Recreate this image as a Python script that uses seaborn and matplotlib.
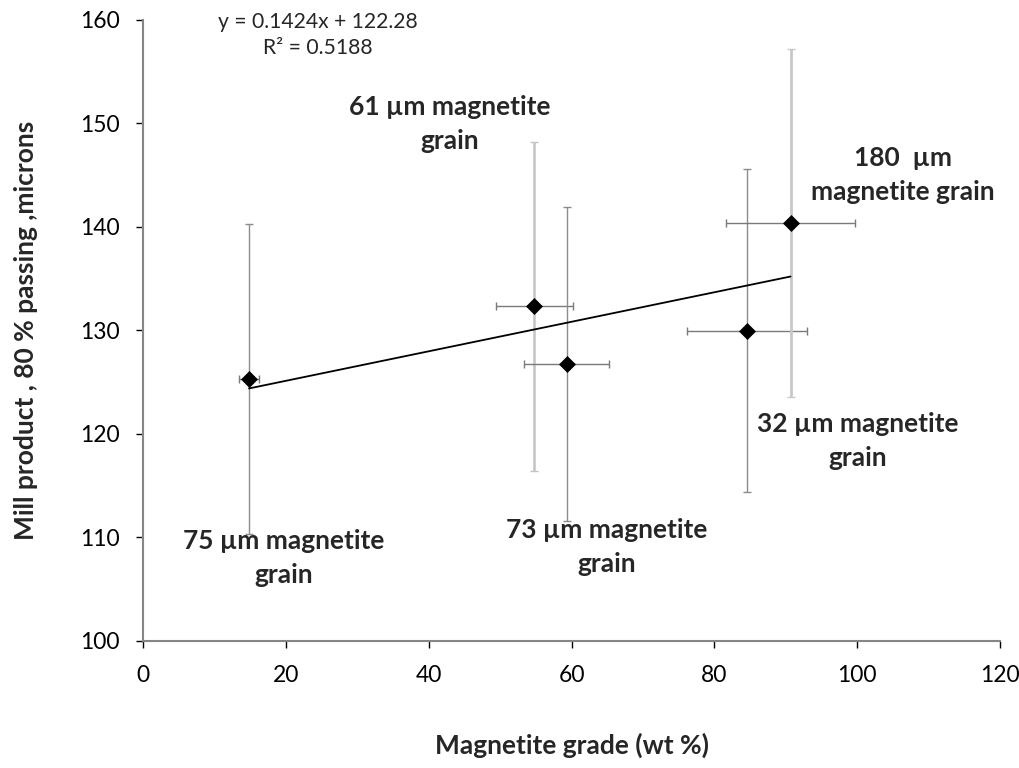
import matplotlib
matplotlib.use("Agg")
import matplotlib.pyplot as plt
import seaborn as sns
import numpy as np
import pandas as pd

# ---- data ----
grade = [14.8, 54.8, 59.3, 84.6, 90.7]          # Magnetite grade (wt %)
p80 = [125.3, 132.3, 126.75, 129.97, 140.4]     # Mill product P80 (microns)
p80_err = [15.0, 15.9, 15.2, 15.6, 16.8]
grade_err = [1.45, 5.4, 5.9, 8.4, 9.1]
labels = ["75 µm magnetite\ngrain", "61 µm magnetite\ngrain", "73 µm magnetite\ngrain",
          "32 µm magnetite\ngrain", "180  µm\nmagnetite grain"]
label_x = [19.6, 42.9, 65.0, 100.1, 106.4]
label_y = [108.0, 149.9, 109.1, 119.3, 145.0]
slope = 0.1424
intercept = 122.28
r2 = 0.5188
x_ticks = [0, 20, 40, 60, 80, 100, 120]
y_ticks = [100, 110, 120, 130, 140, 150, 160]

sns.set_theme(style="white")
plt.rcParams['font.family'] = ['Lato', 'DejaVu Sans']

fig = plt.figure(figsize=(10.2, 7.68), dpi=100)
ax = fig.add_axes([0.1406, 0.1654, 0.8394, 0.8090])

df = pd.DataFrame({"grade": grade, "p80": p80})

# error bars
vcolors = ["#8c8c8c", "#c4c4c4", "#8c8c8c", "#8c8c8c", "#c8c8c8"]
vwidths = [1.0, 1.8, 1.0, 1.0, 2.0]
for i in range(len(grade)):
    ax.errorbar(grade[i], p80[i], yerr=p80_err[i], fmt='none', ecolor=vcolors[i],
                elinewidth=vwidths[i], capsize=2.8, capthick=1.0, zorder=2)
    ax.errorbar(grade[i], p80[i], xerr=grade_err[i], fmt='none', ecolor="#7a7a7a",
                elinewidth=1.0, capsize=2.8, capthick=1.0, zorder=2)

# trend line
xl = np.array([min(grade), max(grade)])
trend = pd.DataFrame({"x": xl, "y": slope * xl + intercept})
sns.lineplot(data=trend, x="x", y="y", color="black", linewidth=1.3, ax=ax, zorder=3)

sns.scatterplot(data=df, x="grade", y="p80", marker="D", color="black", s=75,
                edgecolor="black", linewidth=0, ax=ax, zorder=4)

ax.set_xlim(0, 120)
ax.set_ylim(100, 160)
ax.set_xticks(x_ticks)
ax.set_yticks(y_ticks)
ax.tick_params(axis='both', labelsize=16.5, colors="#000000", length=5, width=1,
               direction='out', bottom=True, left=True, pad=12)
for t in ax.get_xticklines() + ax.get_yticklines():
    t.set_color("#868686")
for s in ["top", "right"]:
    ax.spines[s].set_visible(False)
for s in ["left", "bottom"]:
    ax.spines[s].set_color("#868686")
    ax.spines[s].set_linewidth(1.5)

ax.set_xlabel("Magnetite grade (wt %)", fontsize=19, fontweight="bold", labelpad=34)
ax.set_ylabel("Mill product , 80 % passing ,microns", fontsize=19, fontweight="bold", labelpad=30)

# equation text
fig.text(318 / 1020, 1 - 21.7 / 768, f"y = {slope}x + {intercept}", ha="center", va="center", fontsize=15.2)
fig.text(318 / 1020, 1 - 48.3 / 768, f"R² = {r2}", ha="center", va="center", fontsize=15.2)

for lab, lx, ly in zip(labels, label_x, label_y):
    ax.text(lx, ly, lab, ha="center", va="center", fontsize=19,
            fontweight="bold", linespacing=1.5)

fig.savefig("out.png", dpi=100)
